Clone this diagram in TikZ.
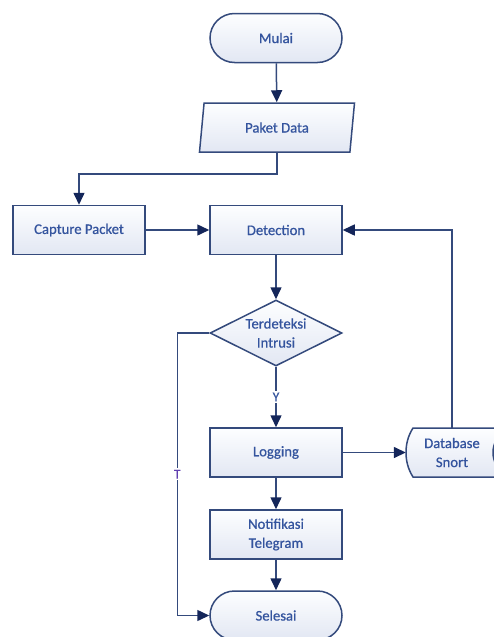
\documentclass[tikz,border=0pt]{standalone}
\usepackage{fontspec}
\setmainfont{Carlito}
\newfontfamily\flowfont[FakeBold=0.7]{Carlito}
\usetikzlibrary{shapes.geometric,shapes.misc,arrows.meta,calc}
\definecolor{edge}{RGB}{52,74,124}
\definecolor{tip}{RGB}{20,38,90}
\definecolor{label}{RGB}{52,84,158}
\definecolor{tlabel}{RGB}{96,64,176}
\definecolor{fillA}{RGB}{253,254,255}
\definecolor{fillB}{RGB}{226,231,243}

\begin{document}
\begin{tikzpicture}[x=1pt,y=-1pt,
  font=\flowfont\fontsize{14.7}{19}\selectfont,
  shape base/.style={draw=edge, line width=1.5pt, top color=fillA, bottom color=fillB,
    text=label, align=center, inner sep=0pt},
  box/.style={shape base, rectangle, minimum width=132pt, minimum height=49pt},
  term/.style={shape base, rounded rectangle, minimum width=132pt, minimum height=49pt},
  data/.style={shape base, trapezium, trapezium left angle=66, trapezium right angle=114,
    trapezium stretches body, minimum width=155pt, minimum height=49pt},
  decision/.style={shape base, diamond, aspect=2, minimum width=132pt, minimum height=66pt},
  arr/.style={draw=edge, line width=1.5pt, -{Triangle[length=12pt,width=11pt,fill=tip,color=tip]}},
  lbl/.style={fill=white, inner sep=1.5pt, font=\flowfont\fontsize{13.5}{15}\selectfont},
]
\useasboundingbox (0,0) rectangle (494,637);
\clip (0,0) rectangle (494,637);

% process steps
\node[term] (start) at (276,38) {Mulai};
\node[data] (pd) at (277,127.5) {Paket Data};
\node[box] (cap) at (79,230) {Capture Packet};
\node[box] (det) at (276,230) {Detection};
\node[decision] (dec) at (276,333) {Terdeteksi\\Intrusi};
\node[box] (log) at (276,452.5) {Logging};
\node[box] (notif) at (276,534.5) {Notifikasi\\Telegram};
\node[term] (end) at (276,615.5) {Selesai};

% stored data symbol
\draw[shape base] (413,428) .. controls (408,436) and (406,444) .. (406,452.5)
  .. controls (406,461) and (408,469) .. (413,477) -- (506,477)
  .. controls (497,469) and (493,461) .. (493,452.5)
  .. controls (493,444) and (497,436) .. (506,428) -- cycle;
\node[text=label, align=center, minimum width=92pt, minimum height=49pt, inner sep=0pt] (db) at (452,452.5) {Database\\Snort};

% connectors
\draw[arr] (start) -- (pd);
\draw[arr] (pd.south) -- ++(0,21) -| (cap.north);
\draw[arr] (cap) -- (det);
\draw[arr] (det) -- (dec);
\draw[arr] (dec) -- node[lbl, text=label] {Y} (log);
\draw[arr] (dec.west) -- ++(-32,0) |- node[lbl, text=tlabel, pos=0.25] {T} (end.west);
\draw[arr] (log) -- (db.west);
\draw[arr] (db.north) |- (det.east);
\draw[arr] (log) -- (notif);
\draw[arr] (notif) -- (end);
\end{tikzpicture}
\end{document}
